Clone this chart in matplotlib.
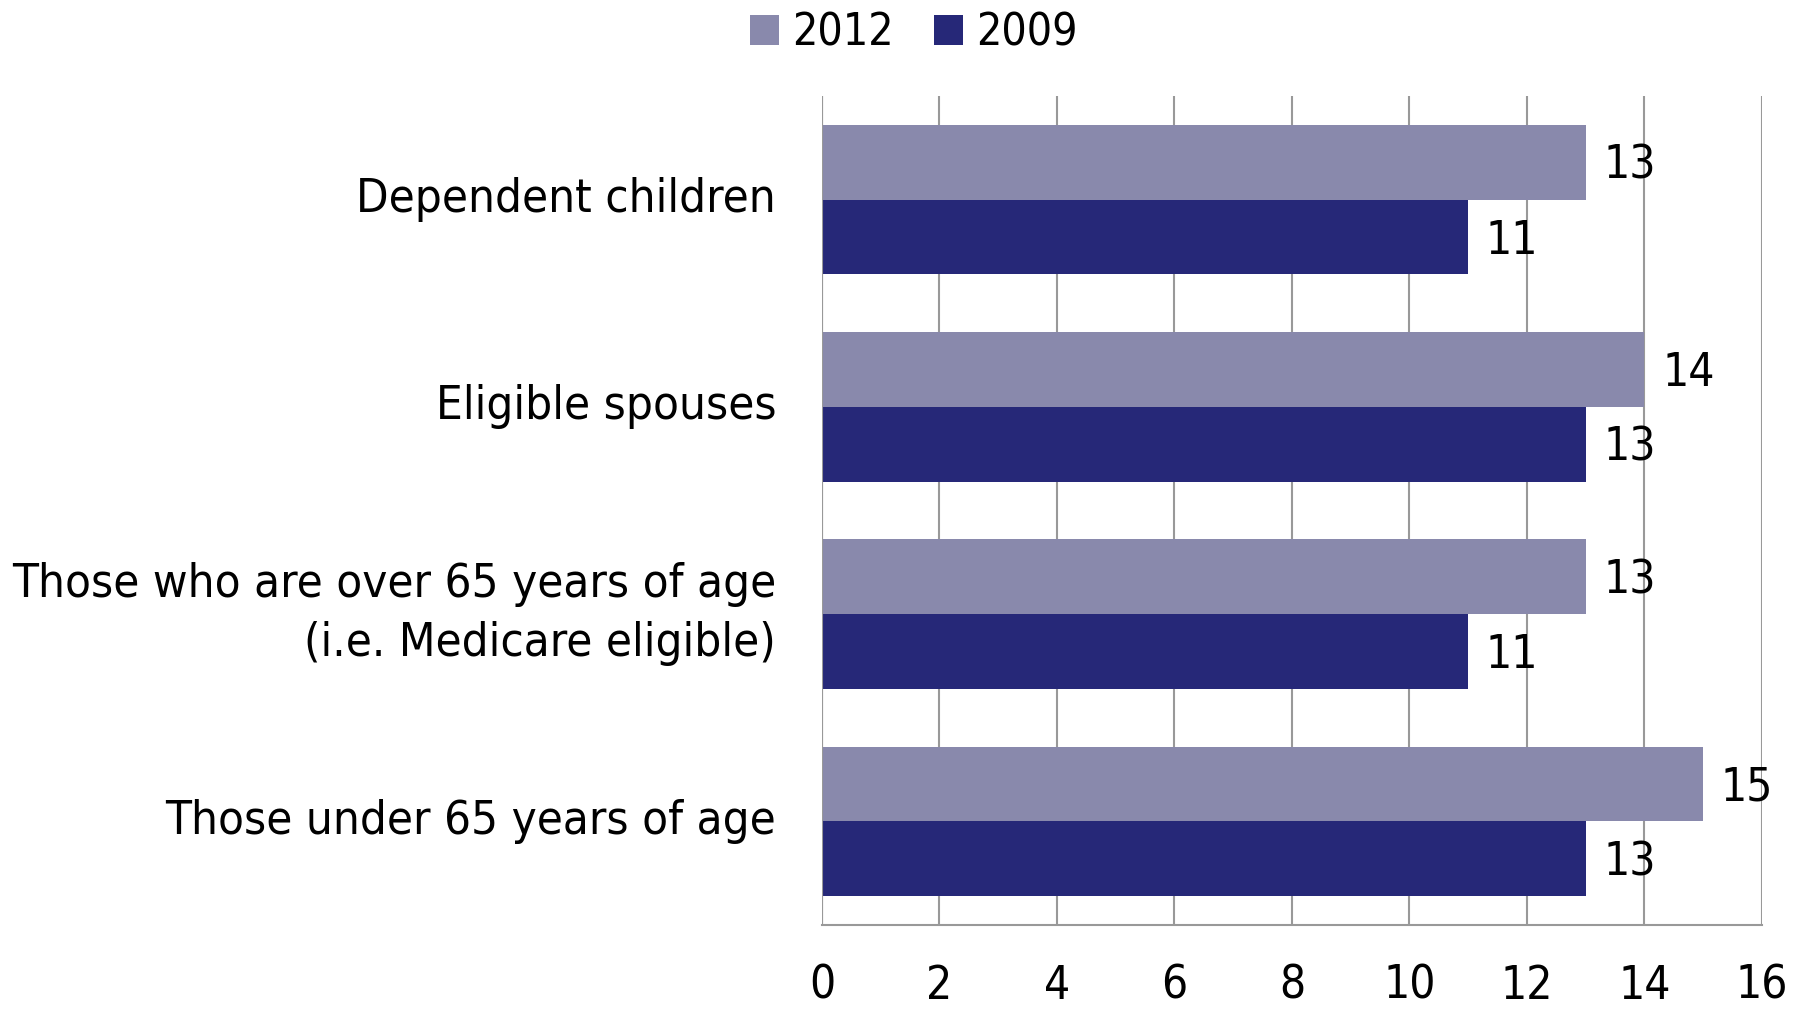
import matplotlib.pyplot as plt
import numpy as np

categories = ["Dependent children", "Eligible spouses",
              "Those who are over 65 years of age\n(i.e. Medicare eligible)",
              "Those under 65 years of age"]
vals_2012 = [13, 14, 13, 15]
vals_2009 = [11, 13, 11, 13]
xticks = [0, 2, 4, 6, 8, 10, 12, 14, 16]

c2012 = "#8989ac"
c2009 = "#262878"

plt.rcParams['font.family'] = ['DejaVu Sans']
plt.rcParams['font.stretch'] = 'condensed'

fig = plt.figure(figsize=(18.06, 10.09), dpi=100)
ax = fig.add_axes([822 / 1806, 1 - 925 / 1009, 940 / 1806, 829 / 1009])

y = np.arange(len(categories))
h = 0.361
b1 = ax.barh(y - h / 2, vals_2012, height=h, color=c2012, label="2012", zorder=2)
b2 = ax.barh(y + h / 2, vals_2009, height=h, color=c2009, label="2009", zorder=2)

for bars, vals in ((b1, vals_2012), (b2, vals_2009)):
    for bar, v in zip(bars, vals):
        ax.text(v + 0.3, bar.get_y() + bar.get_height() / 2 + 0.02, str(v),
                va='center', ha='left', fontsize=33)

ax.set_xlim(0, 16)
ax.set_ylim(len(categories) - 0.5, -0.5)
ax.set_xticks(xticks)
ax.set_xticklabels([str(t) for t in xticks], fontsize=33)
ax.set_yticks(y)
ax.set_yticklabels(categories, fontsize=34, linespacing=1.4)
for lbl in ax.get_yticklabels():
    lbl.set_verticalalignment('center')
ax.tick_params(axis='x', length=0, pad=28)
ax.tick_params(axis='y', length=0, pad=33)
ax.xaxis.grid(True, color='#999999', linewidth=1.5, zorder=0)
for s in ('top', 'right', 'left'):
    ax.spines[s].set_visible(False)
ax.spines['bottom'].set_color('#999999')
ax.spines['bottom'].set_linewidth(1.5)
ax.axvline(0, color='#999999', linewidth=1.5, zorder=3)

fig.legend(handles=[b1, b2], loc='upper center', bbox_to_anchor=(0.506, 1.028),
           ncol=2, frameon=False, fontsize=32, handlelength=0.65, handleheight=0.65,
           handletextpad=0.3, columnspacing=0.9)

fig.savefig("out.png", dpi=100)
